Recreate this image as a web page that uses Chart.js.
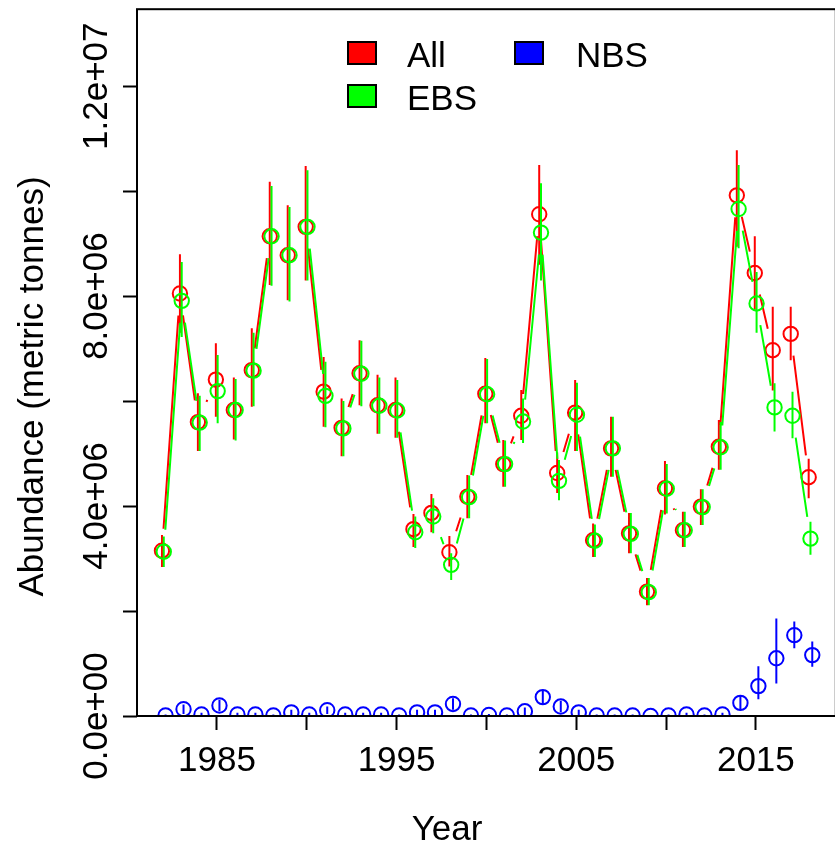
<!DOCTYPE html>
<html><head><meta charset="utf-8">
<script src="https://cdn.jsdelivr.net/npm/chart.js@4/dist/chart.umd.min.js"></script>
<style>
html,body{margin:0;padding:0;overflow:hidden;background:#fff;width:835px;height:843px}
#wrap{width:845px;height:843px}
canvas{display:block}
</style>
</head><body><div id="wrap"><canvas id="c" width="845" height="843"></canvas></div>
<script>
// ---- data (abundance in millions of metric tonnes) ----
const years = [1982,1983,1984,1985,1986,1987,1988,1989,1990,1991,1992,1993,1994,1995,1996,1997,1998,1999,2000,2001,2002,2003,2004,2005,2006,2007,2008,2009,2010,2011,2012,2013,2014,2015,2016,2017,2018];

const allMillions = [3.15,8.05,5.60,6.41,5.83,6.59,9.14,8.78,9.32,6.18,5.49,6.53,5.92,5.83,3.56,3.87,3.12,4.18,6.14,4.80,5.72,9.56,4.63,5.78,3.35,5.10,3.48,2.37,4.34,3.54,3.99,5.13,9.92,8.44,6.97,7.28,4.55];
const allLo = [2.84,7.30,5.05,5.70,5.27,5.89,8.21,7.92,8.30,5.51,4.95,5.92,5.38,5.30,3.22,3.50,2.85,3.77,5.58,4.37,5.26,8.60,4.25,5.05,3.03,4.56,3.10,2.11,3.84,3.22,3.64,4.69,8.94,7.74,6.20,6.78,4.15];
const allHi = [3.45,8.80,6.15,7.10,6.45,7.39,10.18,9.73,10.48,6.84,6.05,7.16,6.50,6.45,3.85,4.23,3.43,4.59,6.82,5.26,6.21,10.50,5.02,6.40,3.67,5.70,3.87,2.63,4.86,3.89,4.32,5.64,10.78,9.14,7.80,7.80,4.90];

const ebsMillions = [3.13,7.91,5.59,6.19,5.83,6.58,9.14,8.78,9.32,6.10,5.48,6.52,5.91,5.82,3.50,3.80,2.88,4.17,6.13,4.80,5.61,9.21,4.48,5.74,3.34,5.10,3.47,2.36,4.33,3.54,3.98,5.12,9.66,7.86,5.88,5.72,3.38];
const ebsLo = [2.84,7.22,5.05,5.58,5.25,5.90,8.20,7.90,8.30,5.50,4.95,5.90,5.38,5.30,3.20,3.48,2.59,3.77,5.58,4.37,5.20,8.30,4.11,5.05,3.03,4.56,3.10,2.11,3.86,3.22,3.64,4.69,8.91,7.30,5.42,5.29,3.07];
const ebsHi = [3.42,8.65,6.10,6.88,6.42,7.30,10.10,9.70,10.40,6.75,6.00,7.15,6.45,6.40,3.80,4.15,3.10,4.58,6.80,5.25,6.05,10.15,4.88,6.35,3.65,5.70,3.87,2.63,4.80,3.89,4.32,5.60,10.50,8.46,6.34,6.18,3.70];

const nbsMillions = [0.01,0.13,0.03,0.20,0.03,0.03,0.01,0.07,0.03,0.11,0.03,0.03,0.03,0.01,0.07,0.07,0.23,0.01,0.02,0.01,0.09,0.36,0.18,0.07,0.01,0.01,0.01,0.00,0.01,0.03,0.01,0.03,0.25,0.57,1.10,1.54,1.16];
const nbsLo = [0.00,0.04,0.00,0.09,0.00,0.00,0.00,0.02,0.00,0.04,0.00,0.00,0.00,0.00,0.02,0.02,0.12,0.00,0.00,0.00,0.02,0.22,0.07,0.02,0.00,0.00,0.00,0.00,0.00,0.00,0.00,0.00,0.11,0.32,0.62,1.29,0.94];
const nbsHi = [0.03,0.22,0.06,0.31,0.06,0.06,0.03,0.12,0.06,0.18,0.06,0.06,0.06,0.03,0.12,0.12,0.34,0.03,0.04,0.03,0.16,0.50,0.29,0.12,0.03,0.03,0.03,0.02,0.03,0.06,0.03,0.06,0.39,0.95,1.86,1.80,1.42];

const xTickYears = [1985,1990,1995,2000,2005,2010,2015];
const xLabelYears = [1985,1995,2005,2015];
const yTickValues = [0,2e6,4e6,6e6,8e6,1e7,1.2e7];
const yLabelValues = [0,4e6,8e6,1.2e7];
const yLabelTexts = ['0.0e+00','4.0e+06','8.0e+06','1.2e+07'];

const seriesNames = ['All','EBS','NBS'];
const legendOrder = ['All','NBS','EBS'];
const UNIT = 1e6;

// ---- styling ----
const FONT = '"Liberation Sans", Arial, Helvetica, sans-serif';
const colors = {All:'#ff0000', EBS:'#00ff00', NBS:'#0000ff'};
const dodge = {All:-0.06, EBS:0.04, NBS:0.14};
const GAP = 22;

function pts(vals, name){ return years.map((yr,i)=>({x: yr + dodge[name], y: vals[i]*UNIT})); }
function scaled(arr){ return arr.map(v=>v*UNIT); }

const datasets = [
  {label:'All', data:pts(allMillions,'All'), lo:scaled(allLo), hi:scaled(allHi), connect:true, order:3},
  {label:'EBS', data:pts(ebsMillions,'EBS'), lo:scaled(ebsLo), hi:scaled(ebsHi), connect:true, order:2},
  {label:'NBS', data:pts(nbsMillions,'NBS'), lo:scaled(nbsLo), hi:scaled(nbsHi), connect:false, order:1}
].map(d=>Object.assign(d,{
  borderColor:colors[d.label], backgroundColor:'rgba(0,0,0,0)',
  pointStyle:'circle', pointRadius:7.2, pointHoverRadius:7.2, pointBorderWidth:2,
  pointBorderColor:colors[d.label], pointBackgroundColor:'rgba(0,0,0,0)',
  showLine:false, clip:0
}));

const errLinePlugin = {
  id:'errLines',
  beforeDatasetDraw(chart, args){
    const ds = chart.data.datasets[args.index];
    const meta = args.meta, ctx = chart.ctx, ca = chart.chartArea, ys = chart.scales.y;
    ctx.save();
    ctx.beginPath(); ctx.rect(ca.left, ca.top, ca.right-ca.left, ca.bottom-ca.top); ctx.clip();
    ctx.strokeStyle = ds.borderColor; ctx.lineWidth = 2; ctx.lineCap = 'butt';
    ctx.beginPath();
    if (ds.connect){
      const p = meta.data;
      for (let i=0;i<p.length-1;i++){
        const a=p[i], b=p[i+1];
        const dx=b.x-a.x, dy=b.y-a.y, L=Math.hypot(dx,dy);
        if (L>2*GAP){
          const ux=dx/L, uy=dy/L;
          ctx.moveTo(a.x+ux*GAP, a.y+uy*GAP);
          ctx.lineTo(b.x-ux*GAP, b.y-uy*GAP);
        }
      }
    }
    meta.data.forEach((el,i)=>{
      ctx.moveTo(el.x, ys.getPixelForValue(ds.lo[i]));
      ctx.lineTo(el.x, ys.getPixelForValue(ds.hi[i]));
    });
    ctx.stroke();
    ctx.restore();
  }
};

const decoPlugin = {
  id:'deco',
  afterDraw(chart){
    const ctx = chart.ctx, ca = chart.chartArea, ys = chart.scales.y;
    ctx.save();
    // box
    ctx.strokeStyle='#000'; ctx.lineWidth=2;
    ctx.strokeRect(ca.left, ca.top, ca.right-ca.left, ca.bottom-ca.top);
    // y labels (rotated)
    ctx.fillStyle='#000';
    ctx.font = '35px ' + FONT;
    ctx.textAlign='center'; ctx.textBaseline='alphabetic';
    yLabelValues.forEach((v,i)=>{
      ctx.save();
      ctx.translate(ca.left-29.7, ys.getPixelForValue(v));
      ctx.rotate(-Math.PI/2);
      ctx.fillText(yLabelTexts[i],0,0);
      ctx.restore();
    });
    // axis titles
    ctx.save();
    ctx.translate(43.3, 386.5); ctx.rotate(-Math.PI/2);
    ctx.fillText('Abundance (metric tonnes)',0,0);
    ctx.restore();
    ctx.fillText('Year', 447, 840);
    // legend
    const boxes = {All:[348,42], NBS:[515,42], EBS:[348,85]};
    const texts = {All:[407,66.5], NBS:[576,66.5], EBS:[407,110]};
    ctx.textAlign='left';
    legendOrder.forEach(n=>{
      const [bx,by]=boxes[n];
      ctx.fillStyle=colors[n]; ctx.fillRect(bx,by,28,22);
      ctx.strokeStyle='#000'; ctx.lineWidth=2; ctx.strokeRect(bx,by,28,22);
      ctx.fillStyle='#000';
      ctx.fillText(n, texts[n][0], texts[n][1]);
    });
    ctx.restore();
  }
};

new Chart(document.getElementById('c'), {
  type:'scatter',
  data:{datasets},
  options:{
    responsive:false, animation:false, devicePixelRatio:1,
    layout:{padding:{left:0, top:9, right:2, bottom:0}},
    plugins:{legend:{display:false}, tooltip:{enabled:false}},
    events:[],
    scales:{
      x:{
        type:'linear', min:1980.55, max:2019.45,
        afterBuildTicks:s=>{ s.ticks = xTickYears.map(v=>({value:v})); },
        afterFit:s=>{ s.height = 127; },
        ticks:{
          callback:(v)=> xLabelYears.includes(v) ? String(v) : '',
          font:{family:FONT, size:35, lineHeight:1.2}, color:'#000',
          padding:10, maxRotation:0, minRotation:0, autoSkip:false
        },
        grid:{display:true, drawOnChartArea:false, drawTicks:true, tickLength:14, tickWidth:2, tickColor:'#000', color:'#000'},
        border:{display:false}
      },
      y:{
        type:'linear', min:0, max:13.467e6,
        afterBuildTicks:s=>{ s.ticks = yTickValues.map(v=>({value:v})); },
        afterFit:s=>{ s.width = 137; },
        ticks:{display:false},
        grid:{display:true, drawOnChartArea:false, drawTicks:true, tickLength:14, tickWidth:2, tickColor:'#000', color:'#000'},
        border:{display:false}
      }
    }
  },
  plugins:[errLinePlugin, decoPlugin]
});
</script>
</body></html>
